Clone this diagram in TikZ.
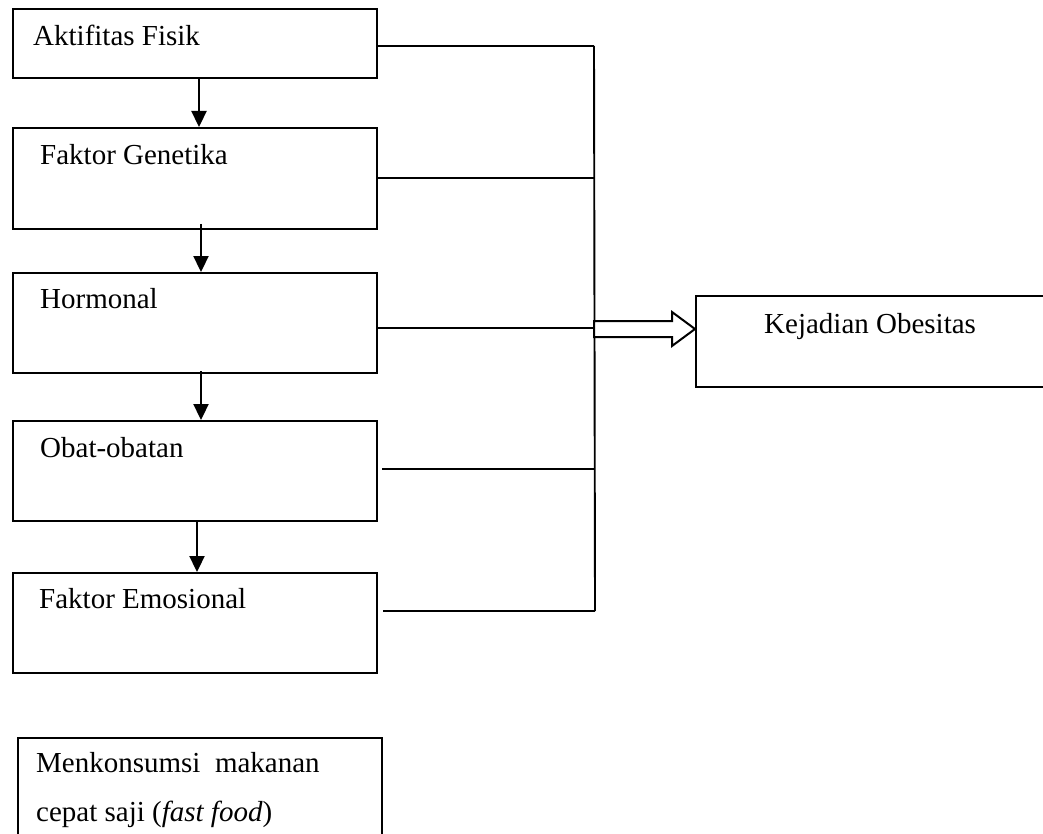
\documentclass[tikz,border=0pt]{standalone}
\usepackage{fontspec}
\setmainfont{Liberation Serif}
\usetikzlibrary{arrows.meta,calc}
\begin{document}
\begin{tikzpicture}[x=1pt,y=-1pt,
  box/.style={draw=black,line width=2pt,rectangle,inner sep=0pt,anchor=north west},
  lbl/.style={inner sep=0pt,anchor=base west,font=\fontsize{29}{34}\selectfont},
  conn/.style={draw=black,line width=1.9pt},
  arr/.style={draw=black,line width=2.3pt,-{Triangle[length=16pt,width=15pt]}},
  hollow/.style={draw=black,line width=2pt,fill=white,line join=miter}]
\useasboundingbox (0,0) rectangle (1043,834);
% boxes
\node[box,minimum width=364pt,minimum height=69pt] (b1) at (12,8) {};
\node[box,minimum width=364pt,minimum height=101pt] (b2) at (12,127) {};
\node[box,minimum width=364pt,minimum height=100pt] (b3) at (12,272) {};
\node[box,minimum width=364pt,minimum height=100pt] (b4) at (12,420) {};
\node[box,minimum width=364pt,minimum height=100pt] (b5) at (12,572) {};
\node[box,minimum width=364pt,minimum height=140pt] (b6) at (17,737) {};
\node[box,minimum width=360pt,minimum height=91pt] (bk) at (695,295) {};
% texts
\node[lbl] (l1) at (33,46) {Aktifitas Fisik};
\node[lbl] (l2) at (40,165) {Faktor Genetika};
\node[lbl] (l3) at (40,308) {Hormonal};
\node[lbl] (l4) at (40,457) {Obat-obatan};
\node[lbl] (l5) at (39,608) {Faktor Emosional};
\node[lbl] (l6) at (36,772) {Menkonsumsi\ \ makanan};
\node[lbl] (l7) at (36,821) {cepat saji (\textit{fast food})};
\node[lbl] (lk) at (764,333) {Kejadian Obesitas};
% bus coordinates
\coordinate (t1) at (594,46);
\coordinate (t2) at (594,178);
\coordinate (t3) at (594,328);
\coordinate (t4) at (595,469);
\coordinate (t5) at (595,611);
% vertical arrows
\draw[arr] ($(b1.south)+(4,0)$) -- ($(b2.north)+(4,0)$);
\draw[arr] ($(b2.south)+(6,-6)$) -- ($(b3.north)+(6,0)$);
\draw[arr] ($(b3.south)+(6,-3)$) -- ($(b4.north)+(6,0)$);
\draw[arr] ($(b4.south)+(2,0)$) -- ($(b5.north)+(2,0)$);
% connectors to bus
\draw[conn] (b1.east |- t1) -- (t1);
\draw[conn] (b2.east |- t2) -- (t2);
\draw[conn] (b3.east |- t3) -- (t3);
\draw[conn] ($(b4.east |- t4)+(4,0)$) -- (t4);
\draw[conn] ($(b5.east |- t5)+(5,0)$) -- (t5);
\draw[conn] (t1) -- (t5);
% hollow block arrow to Kejadian Obesitas
\draw[hollow] (594,321) -- (672,321) -- (672,312) -- (bk.west |- 0,329) -- (672,346) -- (672,337) -- (594,337) -- cycle;
\end{tikzpicture}
\end{document}
